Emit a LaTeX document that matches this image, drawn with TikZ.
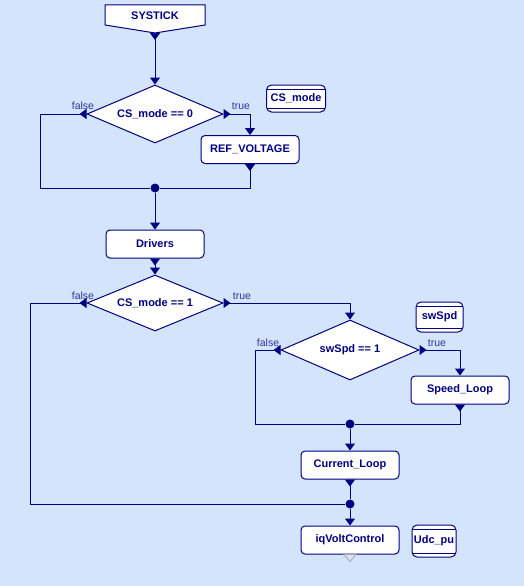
\documentclass[tikz,border=0pt]{standalone}
\usepackage{fontspec}
\setmainfont{Liberation Sans}
\usetikzlibrary{shapes.geometric,arrows.meta,calc}
\definecolor{bgblue}{RGB}{212,228,252}
\definecolor{navy}{RGB}{0,0,128}
\definecolor{lblblue}{RGB}{51,51,153}
\tikzset{arr/.tip={Triangle[width=10pt,length=7pt]},
         rarr/.tip={Triangle[reversed,width=10pt,length=7pt]}}

\begin{document}
\begin{tikzpicture}[x=1pt,y=-1pt,
            every node/.style={font=\fontsize{11}{13}\selectfont\bfseries, text=navy},
            box/.style={draw=navy, fill=white, rounded corners=4pt, line width=1pt, minimum width=98pt, minimum height=28pt, inner sep=0pt},
            decision/.style={diamond, draw=navy, fill=white, line width=1pt, inner sep=0pt, shape aspect=2.3, minimum width=136pt, minimum height=58pt},
            store/.style={draw=navy, fill=white, rounded corners=5pt, line width=1pt, inner sep=0pt,
              path picture={\draw[navy, line width=0.8pt] ([yshift=-4pt]path picture bounding box.north west) -- ([yshift=-4pt]path picture bounding box.north east);
                            \draw[navy, line width=0.8pt] ([yshift=4pt]path picture bounding box.south west) -- ([yshift=4pt]path picture bounding box.south east);}},
            dot/.style={circle, fill=navy, inner sep=0pt, minimum size=9pt},
            lbl/.style={font=\fontsize{10.5}{12}\selectfont, text=lblblue},
            flow/.style={draw=navy, line width=1pt, -arr},
            both/.style={draw=navy, line width=1pt, rarr-arr},
            outflow/.style={draw=navy, line width=1pt, rarr-}]
            \fill[bgblue] (0,0) rectangle (524,586);
            \useasboundingbox (0,0) rectangle (524,586);
            % start block
            \draw[draw=navy, fill=white, line width=1pt] (105,5) -- (205,5) -- (205,25) -- (155,33) -- (105,25) -- cycle;
            \node (systick) at (155,16) {SYSTICK};
            \coordinate (st) at (155,33);
            % blocks
            \node[decision] (d1) at (155,114) {CS\_mode == 0};
            \node[box] (refv) at (250,149.5) {REF\_VOLTAGE};
            \node[store, minimum width=59pt, minimum height=27pt] (s1) at (296,98.5) {CS\_mode};
            \node[dot] (m1) at (155,188) {};
            \node[box] (drv) at (155,244) {Drivers};
            \node[decision, minimum height=56pt] (d2) at (155,303) {CS\_mode == 1};
            \node[decision, minimum width=138pt, minimum height=60pt] (d3) at (350,350) {swSpd == 1};
            \node[store, minimum width=47pt, minimum height=30pt] (s2) at (439.5,317) {swSpd};
            \node[box] (spd) at (460,390) {Speed\_Loop};
            \node[dot] (m3) at (350,424) {};
            \node[box] (cur) at (350,465) {Current\_Loop};
            \node[dot] (m2) at (350,504) {};
            \node[box] (iqv) at (350,540) {iqVoltControl};
            \node[store, minimum width=44pt, minimum height=32pt] (s3) at (434,541) {Udc\_pu};
            % labels
            \node[lbl] (f1) at (83,106) {false};
            \node[lbl] (t1) at (241,106) {true};
            \node[lbl] (f2) at (83,296) {false};
            \node[lbl] (t2) at (242,296) {true};
            \node[lbl] (f3) at (268,343) {false};
            \node[lbl] (t3) at (437,343) {true};
            % connectors
            \draw[both] (st) -- (d1.north);
            \draw[outflow] (d1.west) -- (40,114) |- (m1);
            \draw[both] (d1.east) -| (refv.north);
            \draw[outflow] (refv.south) |- (m1);
            \draw[flow] (m1) -- (drv.north);
            \draw[both] (drv.south) -- (d2.north);
            \draw[outflow] (d2.west) -- (30,303) |- (m2);
            \draw[both] (d2.east) -| (d3.north);
            \draw[outflow] (d3.west) -- (255,350) |- (m3);
            \draw[both] (d3.east) -| (spd.north);
            \draw[outflow] (spd.south) |- (m3);
            \draw[flow] (m3) -- (cur.north);
            \draw[outflow] (cur.south) -- (m2);
            \draw[flow] (m2) -- (iqv.north);
            \draw[gray!70, line width=0.8pt] ($(iqv.south)+(-6,0)$) -- ($(iqv.south)+(6,0)$) -- ($(iqv.south)+(0,7)$) -- cycle;
        \end{tikzpicture}
\end{document}
